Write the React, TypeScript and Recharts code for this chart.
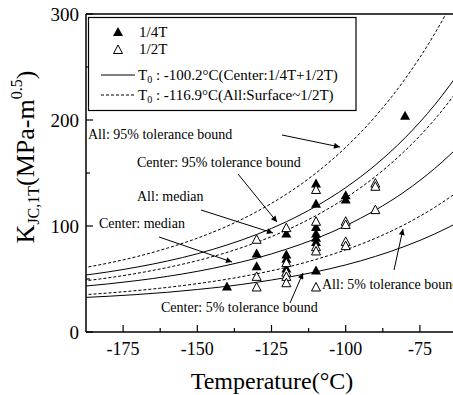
import { ComposedChart, Line, Scatter, XAxis, YAxis, ReferenceLine } from 'recharts';

const FONT = "'Liberation Serif', 'Times New Roman', Times, serif";

// axis ticks
const xTicks = [-175, -162.5, -150, -137.5, -125, -112.5, -100, -87.5, -75, -62.5];
const xLabels = [-175, -150, -125, -100, -75];
const yTicks = [0, 50, 100, 150, 200, 250, 300];
const yLabels = [0, 100, 200, 300];

// curve values
const temps = [-190, -180, -170, -160, -150, -140, -130, -120, -110, -100, -90, -80, -70, -60];
const centerMedian = [42.7, 45.4, 48.6, 52.5, 57.2, 62.9, 69.7, 78.1, 88.1, 100.3, 115.0, 132.7, 154.3, 180.2];
const center95 = [52.9, 56.7, 61.4, 67.0, 73.8, 82.1, 92.0, 104.0, 118.6, 136.2, 157.5, 183.2, 214.3, 251.9];
const center5 = [32.3, 33.7, 35.4, 37.5, 40.1, 43.1, 46.9, 51.4, 56.8, 63.3, 71.3, 80.9, 92.5, 106.5];
const allMedian = [47.5, 51.1, 55.5, 60.9, 67.3, 75.1, 84.6, 96.0, 109.8, 126.5, 146.7, 171.1, 200.6, 236.4];
const all95 = [59.8, 65.0, 71.4, 79.2, 88.5, 99.8, 113.5, 130.0, 150.0, 174.2, 203.4, 238.7, 281.5, 333.1];
const all5 = [34.8, 36.8, 39.2, 42.1, 45.6, 49.8, 54.9, 61.0, 68.5, 77.5, 88.4, 101.6, 117.6, 136.8];

// test results
const quarterT = [
  { t: -140, k: 43 },
  { t: -130, k: 74 }, { t: -130, k: 62 },
  { t: -120, k: 93 }, { t: -120, k: 73 }, { t: -120, k: 69 }, { t: -120, k: 60 },
  { t: -110, k: 140 }, { t: -110, k: 121 }, { t: -110, k: 99 }, { t: -110, k: 93 },
  { t: -110, k: 89 }, { t: -110, k: 85 }, { t: -110, k: 58 },
  { t: -100, k: 129 }, { t: -100, k: 125 },
  { t: -80, k: 204 },
];
const halfT = [
  { t: -130, k: 87 }, { t: -130, k: 52 }, { t: -130, k: 42 },
  { t: -120, k: 98 }, { t: -120, k: 65 }, { t: -120, k: 56 }, { t: -120, k: 52 }, { t: -120, k: 46 },
  { t: -110, k: 134 }, { t: -110, k: 104 }, { t: -110, k: 80 }, { t: -110, k: 76 }, { t: -110, k: 42 },
  { t: -100, k: 104 }, { t: -100, k: 101 }, { t: -100, k: 85 }, { t: -100, k: 81 },
  { t: -90, k: 140 }, { t: -90, k: 137 }, { t: -90, k: 115 },
];

const curve = (vals: number[]) => temps.map((t, i) => ({ t, k: vals[i] }));

const XTick = (props: any) => {
  const { x, y, payload } = props;
  const v = payload.value;
  const major = xLabels.includes(v);
  const axisY = y - 10;
  return (
    <g>
      <line x1={x} x2={x} y1={axisY} y2={axisY - (major ? 7 : 4)} stroke="#000" strokeWidth={1.2} />
      {major && (
        <text x={x} y={y + 13} textAnchor="middle" style={{ fontFamily: FONT, fontSize: 18 }} fill="#000">
          {v}
        </text>
      )}
    </g>
  );
};

const YTick = (props: any) => {
  const { x, y, payload } = props;
  const v = payload.value;
  const major = yLabels.includes(v);
  const axisX = x + 7;
  return (
    <g>
      <line x1={axisX} x2={axisX + (major ? 7 : 4)} y1={y} y2={y} stroke="#000" strokeWidth={1.2} />
      {major && (
        <text x={x} y={y + 6.5} textAnchor="end" style={{ fontFamily: FONT, fontSize: 19 }} fill="#000">
          {v}
        </text>
      )}
    </g>
  );
};

const FilledTri = (props: any) => {
  const { cx, cy } = props;
  return <polygon points={`${cx},${cy - 5} ${cx - 5},${cy + 4} ${cx + 5},${cy + 4}`} fill="#000" />;
};

const OpenTri = (props: any) => {
  const { cx, cy } = props;
  return (
    <polygon
      points={`${cx},${cy - 5} ${cx - 4.5},${cy + 3.5} ${cx + 4.5},${cy + 3.5}`}
      fill="#fff"
      stroke="#000"
      strokeWidth={1}
    />
  );
};

const notes = [
  { text: 'All: 95% tolerance bound', x: 88, y: 139, from: [282, 135], to: [340, 147] },
  { text: 'Center: 95% tolerance bound', x: 137, y: 167, from: [238, 174], to: [277, 222] },
  { text: 'All: median', x: 137, y: 201, from: [201, 210], to: [273, 233] },
  { text: 'Center: median', x: 99, y: 228, from: [159, 237], to: [232, 262] },
  { text: 'Center: 5% tolerance bound', x: 161, y: 312, from: [290, 303], to: [303, 273] },
  { text: 'All: 5% tolerance bound', x: 322, y: 289, from: [394, 270], to: [403, 229] },
];

export default function App() {
  return (
    <div style={{ position: 'absolute', left: 0, top: 0, width: 453, height: 395, overflow: 'hidden', background: '#fff', fontFamily: FONT }}>
      <ComposedChart width={462} height={395} margin={{ top: 14, right: 5, bottom: 0, left: 0 }}>
        <XAxis
          type="number"
          dataKey="t"
          domain={[-187.5, -62.5]}
          allowDataOverflow
          ticks={xTicks}
          tick={(p: any) => <XTick {...p} />}
          tickLine={false}
          tickSize={0}
          tickMargin={10}
          height={63}
          axisLine={{ stroke: '#000', strokeWidth: 1.5 }}
          interval={0}
        />
        <YAxis
          type="number"
          dataKey="k"
          domain={[0, 300]}
          allowDataOverflow
          ticks={yTicks}
          tick={(p: any) => <YTick {...p} />}
          tickLine={false}
          tickSize={0}
          tickMargin={7}
          width={86}
          axisLine={{ stroke: '#000', strokeWidth: 1.5 }}
          interval={0}
        />
        <ReferenceLine y={300} stroke="#000" strokeWidth={1.5} />
        <Line data={curve(all95)} dataKey="k" type="monotone" stroke="#000" strokeWidth={1} strokeDasharray="3 2" dot={false} isAnimationActive={false} />
        <Line data={curve(allMedian)} dataKey="k" type="monotone" stroke="#000" strokeWidth={1} strokeDasharray="3 2" dot={false} isAnimationActive={false} />
        <Line data={curve(all5)} dataKey="k" type="monotone" stroke="#000" strokeWidth={1} strokeDasharray="3 2" dot={false} isAnimationActive={false} />
        <Line data={curve(center95)} dataKey="k" type="monotone" stroke="#000" strokeWidth={1} dot={false} isAnimationActive={false} />
        <Line data={curve(centerMedian)} dataKey="k" type="monotone" stroke="#000" strokeWidth={1} dot={false} isAnimationActive={false} />
        <Line data={curve(center5)} dataKey="k" type="monotone" stroke="#000" strokeWidth={1} dot={false} isAnimationActive={false} />
        <Scatter data={quarterT} dataKey="k" shape={(p: any) => <FilledTri {...p} />} isAnimationActive={false} />
        <Scatter data={halfT} dataKey="k" shape={(p: any) => <OpenTri {...p} />} isAnimationActive={false} />
      </ComposedChart>

      <svg width={453} height={395} style={{ position: 'absolute', left: 0, top: 0, pointerEvents: 'none', fontFamily: FONT }}>
        <defs>
          <marker id="ah" viewBox="0 0 10 10" refX="10" refY="5" markerWidth="8" markerHeight="6" orient="auto" markerUnits="userSpaceOnUse">
            <path d="M0,0 L10,5 L0,10 z" fill="#000" />
          </marker>
        </defs>

        {/* y axis title */}
        <text transform="translate(34,157) rotate(-90)" textAnchor="middle" style={{ fontSize: 26 }} fill="#000">
          K<tspan style={{ fontSize: 16 }} dy={5}>JC,1T</tspan>
          <tspan dy={-5}>(MPa-m</tspan>
          <tspan style={{ fontSize: 16 }} dy={-12}>0.5</tspan>
          <tspan dy={12}>)</tspan>
        </text>
        {/* x axis title */}
        <text x={272} y={389} textAnchor="middle" style={{ fontSize: 24 }} fill="#000">
          Temperature(°C)
        </text>

        {/* legend */}
        <rect x={88.5} y={17.5} width={267.5} height={93} fill="#fff" stroke="#000" strokeWidth={1.2} />
        <polygon points="118,27 113,36 123,36" fill="#000" />
        <text x={139} y={37} style={{ fontSize: 15 }} fill="#000">1/4T</text>
        <polygon points="118,45 113.5,53.5 122.5,53.5" fill="#fff" stroke="#000" strokeWidth={1} />
        <text x={139} y={54} style={{ fontSize: 15 }} fill="#000">1/2T</text>
        <line x1={101} x2={135} y1={75} y2={75} stroke="#000" strokeWidth={1} />
        <text x={138} y={79.5} style={{ fontSize: 15 }} fill="#000">
          T<tspan style={{ fontSize: 10 }} dy={3}>0</tspan>
          <tspan dy={-3}> : -100.2°C(Center:1/4T+1/2T)</tspan>
        </text>
        <line x1={101} x2={135} y1={95} y2={95} stroke="#000" strokeWidth={1} strokeDasharray="3 2" />
        <text x={138} y={99.5} style={{ fontSize: 15 }} fill="#000">
          T<tspan style={{ fontSize: 10 }} dy={3}>0</tspan>
          <tspan dy={-3}> : -116.9°C(All:Surface~1/2T)</tspan>
        </text>

        {/* annotations */}
        {notes.map((n) => (
          <g key={n.text}>
            <text x={n.x} y={n.y} style={{ fontSize: 14 }} fill="#000">{n.text}</text>
            <line x1={n.from[0]} y1={n.from[1]} x2={n.to[0]} y2={n.to[1]} stroke="#000" strokeWidth={1} markerEnd="url(#ah)" />
          </g>
        ))}
      </svg>
    </div>
  );
}
